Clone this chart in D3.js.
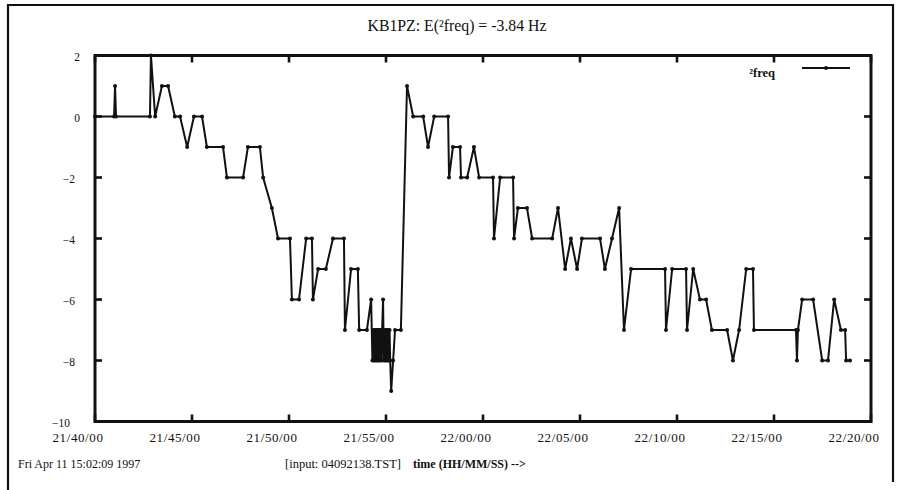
<!DOCTYPE html>
<html>
<head>
<meta charset="utf-8">
<script src="https://cdn.jsdelivr.net/npm/d3@7/dist/d3.min.js"></script>
<style>
  html, body { margin: 0; padding: 0; background: #fff; }
  svg { display: block; }
  text { font-family: "Liberation Serif", "Times New Roman", serif; fill: #111; }
</style>
</head>
<body>
<svg id="chart" width="910" height="490"></svg>
<script>
// Frequency offset samples: seconds elapsed since 21:40:00, and offset in Hz
const elapsedSec = [
  0, 59, 62, 65, 170, 173, 186, 207, 226, 247, 263, 285, 306, 331, 346, 396,
  408, 458, 473, 510, 520, 547, 566, 603, 609, 631, 653, 671, 674, 690, 714, 736,
  770, 773, 792, 813, 817, 841, 854,
  858, 860, 862, 864, 866, 868, 870, 872, 874, 876, 878, 880, 882, 884, 886, 888,
  891, 893, 895, 897, 899, 901, 903, 905, 907, 909, 911, 913,
  916, 922, 928, 946, 965, 984, 1015, 1030, 1049, 1092, 1095, 1107, 1129, 1132, 1151, 1172,
  1188, 1231, 1234, 1253, 1293, 1296, 1308, 1336, 1352, 1414, 1432, 1454, 1472, 1491, 1506, 1562,
  1577, 1599, 1621, 1636, 1658, 1763, 1766, 1785, 1828, 1831, 1850, 1871, 1890, 1908, 1955, 1973,
  1992, 2014, 2035, 2038, 2168, 2171, 2174, 2187, 2221, 2249, 2267, 2286, 2307, 2320, 2323, 2335
];
const dfreq = [
  0, 0, 1, 0, 0, 2, 0, 1, 1, 0, 0, -1, 0, 0, -1, -1,
  -2, -2, -1, -1, -2, -3, -4, -4, -6, -6, -4, -4, -6, -5, -5, -4,
  -4, -7, -5, -5, -7, -7, -6,
  -8, -7, -8, -7, -8, -7, -8, -7, -8, -7, -8, -7, -8, -7, -8, -7,
  -6, -8, -7, -8, -7, -8, -7, -8, -7, -8, -7, -8,
  -9, -8, -7, -7, 1, 0, 0, -1, 0, 0, -2, -1, -1, -2, -2, -1,
  -2, -2, -4, -2, -2, -4, -3, -3, -4, -4, -3, -5, -4, -5, -4, -4,
  -5, -4, -3, -7, -5, -5, -7, -5, -5, -7, -5, -6, -6, -7, -7, -8,
  -7, -5, -5, -7, -7, -8, -7, -6, -6, -8, -8, -6, -7, -7, -8, -8
];

const yTickValues = [2, 0, -2, -4, -6, -8, -10];
const xTickMinutes = [0, 5, 10, 15, 20, 25, 30, 35, 40];

const titleText = "KB1PZ: E(\u00B2freq) = -3.84 Hz";
const legendLabel = "\u00B2freq";
const footerDate = "Fri Apr 11 15:02:09 1997";
const footerInput = "[input: 04092138.TST]";
const footerAxis = "time (HH/MM/SS) -->";

const start = new Date(Date.UTC(1997, 3, 10, 21, 40, 0));
const toDate = s => new Date(start.getTime() + s * 1000);
const points = elapsedSec.map((s, i) => ({ t: toDate(s), v: dfreq[i] }));

const svg = d3.select("#chart");
const plot = { left: 95, right: 871, top: 55.5, bottom: 421.5 };

const x = d3.scaleUtc()
  .domain([start, toDate(40 * 60)])
  .range([plot.left, plot.right]);
const y = d3.scaleLinear()
  .domain([-10, 2])
  .range([plot.bottom, plot.top]);

// page border
svg.append("path")
  .attr("d", "M8,490 V5 H893 V482")
  .attr("fill", "none")
  .attr("stroke", "#111")
  .attr("stroke-width", 2.2);

// title
svg.append("text")
  .attr("x", 457).attr("y", 31)
  .attr("text-anchor", "middle")
  .attr("font-size", 15.8)
  .text(titleText);

// inward ticks on all four sides
const xTicks = xTickMinutes.map(m => toDate(m * 60));
const tickLen = 7;
const tickG = svg.append("g").attr("stroke", "#111").attr("stroke-width", 2.6);
xTicks.forEach(d => {
  const px = x(d);
  tickG.append("line").attr("x1", px).attr("x2", px).attr("y1", plot.bottom).attr("y2", plot.bottom - tickLen);
  tickG.append("line").attr("x1", px).attr("x2", px).attr("y1", plot.top).attr("y2", plot.top + tickLen);
});
yTickValues.forEach(v => {
  const py = y(v);
  tickG.append("line").attr("x1", plot.left).attr("x2", plot.left + tickLen).attr("y1", py).attr("y2", py);
  tickG.append("line").attr("x1", plot.right).attr("x2", plot.right - tickLen).attr("y1", py).attr("y2", py);
});

// plot frame
svg.append("rect")
  .attr("x", plot.left).attr("y", plot.top)
  .attr("width", plot.right - plot.left)
  .attr("height", plot.bottom - plot.top)
  .attr("fill", "none")
  .attr("stroke", "#111")
  .attr("stroke-width", 3);

// y tick labels (longer labels sit a little further out)
const yFmt = d3.format("d");
svg.append("g").selectAll("text")
  .data(yTickValues)
  .join("text")
  .attr("x", v => 80 - 5 * (yFmt(v).length - 1))
  .attr("y", v => y(v) + 5)
  .attr("text-anchor", "end")
  .attr("font-size", 11.5)
  .text(v => yFmt(v));

// x tick labels
const fmt = d3.utcFormat("%H/%M/%S");
svg.append("g").selectAll("text")
  .data(xTicks)
  .join("text")
  .attr("x", d => x(d) - 17)
  .attr("y", 442)
  .attr("text-anchor", "middle")
  .attr("font-size", 13)
  .attr("letter-spacing", 0.6)
  .text(d => fmt(d));

// data line with sample markers
const line = d3.line().x(d => x(d.t)).y(d => y(d.v));
svg.append("path")
  .datum(points)
  .attr("d", line)
  .attr("fill", "none")
  .attr("stroke", "#111")
  .attr("stroke-width", 2)
  .attr("stroke-linejoin", "miter")
  .attr("stroke-miterlimit", 2);
svg.append("g").selectAll("circle")
  .data(points)
  .join("circle")
  .attr("cx", d => x(d.t))
  .attr("cy", d => y(d.v))
  .attr("r", 2)
  .attr("fill", "#111");

// legend
svg.append("text")
  .attr("x", 775).attr("y", 77)
  .attr("text-anchor", "end")
  .attr("font-size", 12.5)
  .attr("font-weight", "bold")
  .text(legendLabel);
svg.append("line")
  .attr("x1", 802).attr("x2", 850).attr("y1", 68).attr("y2", 68)
  .attr("stroke", "#111").attr("stroke-width", 2);
svg.append("circle").attr("cx", 826).attr("cy", 68).attr("r", 2).attr("fill", "#111");

// footer
svg.append("text").attr("x", 18).attr("y", 468).attr("font-size", 12).text(footerDate);
svg.append("text").attr("x", 285).attr("y", 468).attr("font-size", 12.5).text(footerInput);
svg.append("text").attr("x", 413).attr("y", 468).attr("font-size", 12).attr("font-weight", "bold").text(footerAxis);
</script>
</body>
</html>
